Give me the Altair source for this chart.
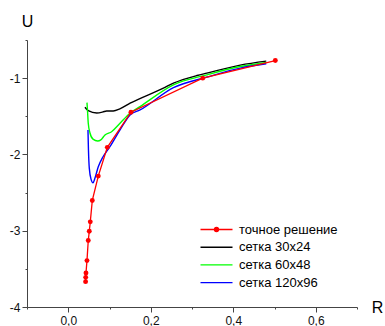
import altair as alt
import pandas as pd

# ---- data ----
names = ["точное решение", "сетка 30x24", "сетка 60x48", "сетка 120x96"]
colors = ["#ff0000", "#000000", "#00ff00", "#0000ff"]

exact_r = [0.0420, 0.0423, 0.0430, 0.0454, 0.0485, 0.0510, 0.0534, 0.0583, 0.0728, 0.0947, 0.152, 0.326, 0.502]
exact_u = [-3.668, -3.611, -3.555, -3.392, -3.129, -3.007, -2.884, -2.603, -2.284, -1.907, -1.447, -1.000, -0.769]

g30_r = [0.0405, 0.0485, 0.069, 0.084, 0.093, 0.109, 0.125, 0.150, 0.2306, 0.255, 0.312, 0.336, 0.417, 0.480]
g30_u = [-1.381, -1.426, -1.456, -1.443, -1.430, -1.430, -1.403, -1.329, -1.131, -1.066, -0.966, -0.934, -0.829, -0.777]

g60_r = [0.0454, 0.0466, 0.0485, 0.0527, 0.060, 0.0714, 0.079, 0.089, 0.105, 0.1255, 0.1498, 0.174, 0.255, 0.336, 0.417, 0.480]
g60_u = [-1.321, -1.417, -1.591, -1.719, -1.800, -1.824, -1.810, -1.745, -1.702, -1.591, -1.460, -1.373, -1.088, -0.957, -0.848, -0.795]

g120_r = [0.0478, 0.0490, 0.0510, 0.0555, 0.0600, 0.0648, 0.0728, 0.084, 0.101, 0.1255, 0.1498, 0.174, 0.255, 0.336, 0.417, 0.480]
g120_u = [-1.679, -1.942, -2.180, -2.330, -2.372, -2.310, -2.162, -2.034, -1.899, -1.679, -1.482, -1.417, -1.124, -0.987, -0.868, -0.812]

x_ticks = [-0.1, 0.0, 0.1, 0.2, 0.3, 0.4, 0.5, 0.6, 0.7]
y_ticks = [-4.0, -3.5, -3.0, -2.5, -2.0, -1.5, -1.0, -0.5]

rows = []
for name, rs, us in zip(names, [exact_r, g30_r, g60_r, g120_r], [exact_u, g30_u, g60_u, g120_u]):
    for i, (r, u) in enumerate(zip(rs, us)):
        rows.append({"series": name, "r": r, "u": u, "i": i})
df = pd.DataFrame(rows)

FONT = "Liberation Sans"

x_enc = alt.X(
    "r:Q",
    scale=alt.Scale(domain=[-0.1, 0.7], nice=False, zero=False),
    axis=alt.Axis(
        values=x_ticks,
        labelExpr="round(datum.value*10) % 2 == 0 ? replace(format(datum.value, '.1f'), '.', ',') : ''",
        tickSize={"condition": {"test": "round(datum.value*10) % 2 == 0", "value": 5}, "value": 2},
        title="R", titleAngle=0, titleX=350, titleY=0, titleBaseline="middle", titleAlign="center",
        titleFontSize=16, titleFontWeight="normal", titleFont=FONT, titleColor="#000",
        labelFont=FONT, labelFontSize=12, labelColor="#111", labelPadding=3,
        domainColor="#444", tickColor="#444", grid=False, labelOverlap=False, labelFlush=False,
    ),
)
y_enc = alt.Y(
    "u:Q",
    scale=alt.Scale(domain=[-4, -0.5], nice=False, zero=False),
    axis=alt.Axis(
        values=y_ticks,
        labelExpr="round(datum.value*2) % 2 == 0 ? '' + datum.value : ''",
        tickSize={"condition": {"test": "round(datum.value*2) % 2 == 0", "value": 5}, "value": 2},
        title="U", titleAngle=0, titleX=0, titleY=-19, titleBaseline="middle", titleAlign="center",
        titleFontSize=16, titleFontWeight="normal", titleFont=FONT, titleColor="#000",
        labelFont=FONT, labelFontSize=12, labelColor="#111", labelPadding=2,
        domainColor="#444", tickColor="#444", grid=False, labelOverlap=False,
    ),
)

LINE = "M-4,0H4"
DOT = "M-4,0H4M-0.5,0A0.5,0.5,0,1,0,0.5,0A0.5,0.5,0,1,0,-0.5,0"

legend_kw = dict(
    title=None, orient="none", legendX=183, legendY=183, padding=0,
    symbolSize=64, symbolStrokeWidth=1.4, symbolOpacity=1, labelOffset=16, rowPadding=3.7,
    labelFont=FONT, labelFontSize=13, labelColor="#000",
)

color_enc = alt.Color("series:N", scale=alt.Scale(domain=names, range=colors),
                      legend=alt.Legend(**legend_kw))
shape_enc = alt.Shape("series:N", scale=alt.Scale(domain=names, range=[DOT, LINE, LINE, LINE]),
                      legend=alt.Legend(**legend_kw))

base = alt.Chart(df).encode(x=x_enc, y=y_enc, color=color_enc, order="i:Q")

grids = base.transform_filter(alt.datum.series != names[0]).mark_line(strokeWidth=1.4, interpolate="monotone")
exact_line = base.transform_filter(alt.datum.series == names[0]).mark_line(strokeWidth=1.3)
exact_pts = base.transform_filter(alt.datum.series == names[0]).mark_circle(size=24, opacity=1)
legend_layer = base.mark_point(filled=False, fill="#ff0000", opacity=0).encode(shape=shape_enc)

chart = alt.layer(grids, exact_line, exact_pts, legend_layer).properties(
    width=330, height=267,
    padding={"left": 27, "top": 40, "right": 28, "bottom": 19},
    autosize="none",
).configure_view(stroke=None)

chart.save("out.html", embed_options={"renderer": "svg", "actions": False})
